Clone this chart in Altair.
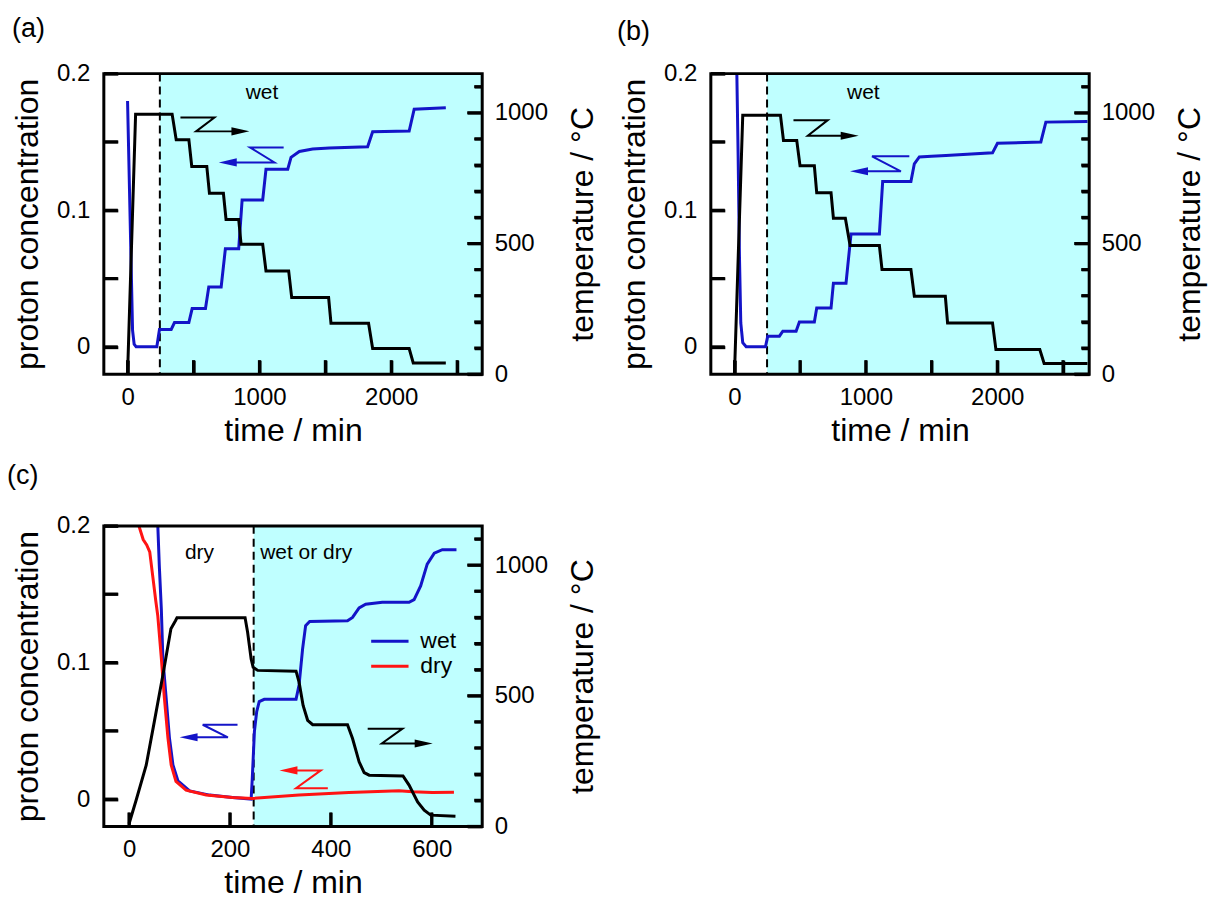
import altair as alt
import pandas as pd

# ---------------- data ----------------
# panel (a)
A_TEMP_T = [0, 61, 338, 369, 465, 487, 601, 621, 727, 747, 843, 861, 1025, 1050, 1222, 1245, 1525, 1543, 1828, 1859, 2136, 2167, 2414]
A_TEMP_V = [0, 995, 995, 897, 897, 795, 795, 692, 692, 592, 592, 497, 497, 395, 395, 293, 293, 195, 195, 98, 98, 43, 43]
A_CONC_T = [0, 38, 50, 65, 222, 242, 331, 356, 465, 490, 591, 616, 710, 742, 843, 869, 1025, 1050, 1215, 1240, 1303, 1404, 1530, 1821, 1859, 2136, 2174, 2414]
A_CONC_V = [0.18, 0.012, 0.002, 0.0, 0.0, 0.0127, 0.0127, 0.0178, 0.0178, 0.028, 0.028, 0.0438, 0.0438, 0.0718, 0.0718, 0.1075, 0.1075, 0.130, 0.130, 0.1387, 0.143, 0.1448, 0.1455, 0.1465, 0.1574, 0.158, 0.1739, 0.175]

# panel (b)
B_TEMP_T = [0, 63, 350, 373, 474, 499, 608, 626, 735, 753, 844, 880, 1103, 1123, 1343, 1369, 1605, 1622, 1964, 1990, 2324, 2357, 2687]
B_TEMP_V = [0, 991, 991, 894, 894, 797, 797, 694, 694, 597, 597, 492, 492, 400, 400, 298, 298, 196, 196, 94, 94, 41, 41]
B_CONC_T = [14, 18, 28, 38, 48, 63, 89, 236, 253, 342, 368, 469, 494, 608, 626, 735, 753, 849, 887, 1103, 1128, 1343, 1369, 1407, 1500, 1610, 1964, 2002, 2332, 2370, 2687]
B_CONC_V = [0.215, 0.2, 0.139, 0.066, 0.0175, 0.003, 0.0, 0.0, 0.0078, 0.0078, 0.0114, 0.0114, 0.0182, 0.0182, 0.0284, 0.0284, 0.0466, 0.0466, 0.0826, 0.0826, 0.121, 0.121, 0.134, 0.139, 0.1395, 0.140, 0.142, 0.149, 0.150, 0.1645, 0.165]

# panel (c)
C_TEMP_T = [0, 14, 34, 50, 67, 83, 92, 95, 230, 235, 242, 246, 255, 331, 337, 345, 354, 364, 433, 443, 456, 466, 476, 543, 555, 572, 585, 598, 647]
C_TEMP_V = [10, 100, 234, 400, 578, 756, 787, 798, 798, 743, 641, 609, 597, 594, 552, 463, 406, 389, 389, 336, 247, 206, 196, 193, 158, 94, 62, 43, 39]
C_WET_T = [56, 60, 64, 67, 73.5, 80, 87, 97, 120, 160, 205, 242, 244, 248.5, 253, 258, 268, 331, 337, 344, 350, 358, 433, 443, 456, 469, 502, 555, 565, 578, 591, 605, 621, 649]
C_WET_V = [0.21, 0.1705, 0.139, 0.103, 0.074, 0.045, 0.025, 0.0133, 0.006, 0.0029, 0.0012, 0.0, 0.0133, 0.0496, 0.064, 0.0714, 0.073, 0.073, 0.0835, 0.110, 0.127, 0.130, 0.1306, 0.133, 0.140, 0.1427, 0.144, 0.144, 0.146, 0.156, 0.172, 0.180, 0.1826, 0.1826]
C_DRY_T = [19.5, 28, 35, 41, 47, 53, 57, 64, 70, 77, 83.5, 93, 113, 153, 205, 245, 337, 436, 535, 562, 601, 644]
C_DRY_V = [0.2, 0.19, 0.186, 0.181, 0.163, 0.145, 0.134, 0.103, 0.074, 0.045, 0.025, 0.013, 0.0065, 0.003, 0.0012, 0.0005, 0.003, 0.0048, 0.006, 0.0053, 0.0048, 0.005]

# axis-pointer zigzags (time, value) and arrowheads
A_ZIG_T_T, A_ZIG_T_V = [401, 659, 520, 856], [982, 982, 929, 929]
A_ZIG_C_T, A_ZIG_C_V = [1184, 929, 1114, 760], [0.146, 0.146, 0.135, 0.135]
B_ZIG_T_T, B_ZIG_T_V = [449, 710, 558, 877], [972, 972, 912, 912]
B_ZIG_C_T, B_ZIG_C_V = [1331, 1047, 1267, 948], [0.1395, 0.1395, 0.1285, 0.1285]
C_ZIG_T_T, C_ZIG_T_V = [473, 542, 501, 584], [374, 374, 317, 317]
C_ZIG_W_T, C_ZIG_W_V = [215, 146, 196, 118], [0.0544, 0.0544, 0.0452, 0.0452]
C_ZIG_D_T, C_ZIG_D_V = [394, 331, 380, 316], [0.008, 0.008, 0.021, 0.021]

CONC_TICKS = [0, 0.05, 0.1, 0.15, 0.2]
TEMP_TICKS = [0, 100, 200, 300, 400, 500, 600, 700, 800, 900, 1000, 1100]
TEMP_MAJOR = [0, 500, 1000]
TEMP_MINOR = [100, 200, 300, 400, 600, 700, 800, 900, 1100]
AB_XTICKS = [0, 500, 1000, 1500, 2000, 2500]
C_XTICKS = [0, 200, 400, 600]

# ---------------- style ----------------
W, H = 379, 301
FONT = "Liberation Sans"
BLUE = "#1414c8"
RED = "#ff1414"
CYAN = "#bfffff"
ARROW_R = "M-1,-0.45L1,0L-1,0.45Z"
ARROW_L = "M1,-0.45L-1,0L1,0.45Z"
LEGEND_LINE = "M-2,0L2,0"


def df_xy(t, v, **extra):
    d = pd.DataFrame({"t": t, "v": v})
    d["i"] = range(len(d))
    for k, val in extra.items():
        d[k] = val
    return d


def panel(label, tdx, toff, xdom, xticks, xstep, wet_start, temp, conc_list,
          zig_temp, zig_conc, texts, legend=False):
    xscale = alt.Scale(domain=xdom, nice=False, zero=False)
    cscale = alt.Scale(domain=[-0.02, 0.2], nice=False, zero=False)
    tscale = alt.Scale(domain=[0, 1150], nice=False, zero=False)
    # inward ticks: axis pulled inside the frame by the tick length
    xaxis = alt.Axis(values=xticks, format="d",
                     labelExpr=f"datum.value % {xstep} == 0 ? datum.label : ''",
                     ticks=True, tickSize=14, tickWidth=3, tickColor="black",
                     offset=-14, zindex=1,
                     domain=False, grid=False, labelFlush=False,
                     labelOverlap=False, labelFontSize=24, labelPadding=11,
                     labelColor="black", title="time / min", titleFontSize=32,
                     titleFontWeight="normal", titleColor="black", titlePadding=6)
    caxis = alt.Axis(values=CONC_TICKS, format="~g",
                     labelExpr="indexof(['0.05','0.15'], datum.label) >= 0 ? '' : datum.label",
                     ticks=True, tickSize=14, tickWidth=3, tickColor="black",
                     offset=-14, zindex=1,
                     domain=False, grid=False, labelOverlap=False,
                     labelFontSize=24, labelPadding=14, labelColor="black",
                     title="proton concentration", titleFontSize=32,
                     titleFontWeight="normal", titleColor="black", titlePadding=12)
    taxis = alt.Axis(orient="right", values=TEMP_TICKS, format="d",
                     labelExpr="datum.value % 500 == 0 ? datum.label : ''",
                     ticks=True, tickSize=15, tickWidth=3, tickColor="black",
                     tickDash={"condition": {"test": "datum.value % 500 != 0",
                                             "value": [0, 7, 8, 0]},
                               "value": [15, 0]},
                     offset=-15, zindex=1,
                     domain=False, grid=False, labelOverlap=False,
                     labelFontSize=24, labelPadding=12, labelColor="black",
                     title="temperature / °C", titleFontSize=32,
                     titleFontWeight="normal", titleColor="black",
                     titleAngle=270, titleBaseline="top", titlePadding=20)

    def X(f="t"):
        return alt.X(f"{f}:Q", scale=xscale, axis=xaxis)

    def X2(f):
        return alt.X2(f"{f}:Q")

    def YC(f="v"):
        return alt.Y(f"{f}:Q", scale=cscale, axis=caxis)

    def YT(f="v"):
        return alt.Y(f"{f}:Q", scale=tscale, axis=taxis)

    # ---- concentration group (left axis) ----
    bg = alt.Chart(pd.DataFrame({"t": [wet_start], "t2": [xdom[1]]})).mark_rect(
        color=CYAN).encode(x=X(), x2=X2("t2"), y=alt.value(0), y2=alt.value(H))
    dash = alt.Chart(pd.DataFrame({"t": [wet_start]})).mark_rule(
        color="black", strokeWidth=2, strokeDash=[8, 5]).encode(
        x=X(), y=alt.value(0), y2=alt.value(H))
    c_layers = [bg, dash]
    for d in conc_list:
        if legend:
            enc = dict(color=alt.Color("series:N",
                       scale=alt.Scale(domain=["wet", "dry"], range=[BLUE, RED]),
                       legend=alt.Legend(orient="none", legendX=275, legendY=557,
                                         title=None, symbolType=LEGEND_LINE,
                                         symbolSize=350, symbolStrokeWidth=3,
                                         labelFontSize=23, labelOffset=19,
                                         rowPadding=1, padding=0,
                                         labelColor="black")))
        else:
            enc = dict(color=alt.value(BLUE))
        c_layers.append(alt.Chart(d).mark_line(strokeWidth=3, clip=True).encode(
            x=X(), y=YC(), order="i:Q", **enc))
    for (zt, zv, col, shape) in zig_conc:
        zd = df_xy(zt, zv)
        c_layers.append(alt.Chart(zd).mark_line(color=col, strokeWidth=2).encode(
            x=X(), y=YC(), order="i:Q"))
        c_layers.append(alt.Chart(zd.tail(1)).mark_point(
            shape=shape, filled=True, color=col, size=324, opacity=1).encode(x=X(), y=YC()))
    # inward tick marks drawn on top (bottom and left)
    c_layers.append(alt.Chart(pd.DataFrame({"t": xticks})).mark_tick(
        orient="vertical", size=14, thickness=3, color="#000000", opacity=1).encode(
        x=X(), y=alt.value(H - 7)))
    c_layers.append(alt.Chart(pd.DataFrame({"v": CONC_TICKS})).mark_tick(
        orient="horizontal", size=14, thickness=3, color="#000000", opacity=1).encode(
        y=YC(), x=alt.value(7)))
    conc_group = alt.layer(*c_layers)

    # ---- temperature group (right axis) ----
    tline = alt.Chart(temp).mark_line(color="black", strokeWidth=3, clip=True).encode(
        x=X(), y=YT(), order="i:Q")
    t_layers = [tline]
    for (zt, zv, col, shape) in zig_temp:
        zd = df_xy(zt, zv)
        t_layers.append(alt.Chart(zd).mark_line(color=col, strokeWidth=2).encode(
            x=X(), y=YT(), order="i:Q"))
        t_layers.append(alt.Chart(zd.tail(1)).mark_point(
            shape=shape, filled=True, color=col, size=324, opacity=1).encode(x=X(), y=YT()))
    for (tt, tv, txt, al) in texts:
        t_layers.append(alt.Chart(pd.DataFrame({"t": [tt], "v": [tv], "s": [txt]})).mark_text(
            fontSize=21, color="black", align=al, baseline="middle").encode(
            x=X(), y=YT(), text="s:N"))
    frame = alt.Chart(pd.DataFrame({"k": [0]})).mark_rect(
        filled=False, stroke="black", strokeWidth=3).encode(
        x=alt.value(0), x2=alt.value(W), y=alt.value(0), y2=alt.value(H))
    t_layers.append(frame)
    t_layers.append(alt.Chart(pd.DataFrame({"v": TEMP_MAJOR})).mark_tick(
        orient="horizontal", size=15, thickness=3, color="#000000", opacity=1).encode(
        y=YT(), x=alt.value(W - 7.5)))
    t_layers.append(alt.Chart(pd.DataFrame({"v": TEMP_MINOR})).mark_tick(
        orient="horizontal", size=8, thickness=3, color="#000000", opacity=1).encode(
        y=YT(), x=alt.value(W - 4)))
    temp_group = alt.layer(*t_layers)

    return alt.layer(conc_group, temp_group).resolve_scale(y="independent").properties(
        width=W, height=H,
        title=alt.TitleParams(label, anchor="start", frame="group", dx=tdx, offset=toff,
                              fontSize=27, fontWeight="normal", color="black", font=FONT))


pa = panel("(a)", -92, 19, [-180, 2690], AB_XTICKS, 1000, 245,
           df_xy(A_TEMP_T, A_TEMP_V), [df_xy(A_CONC_T, A_CONC_V)],
           [(A_ZIG_T_T, A_ZIG_T_V, "black", ARROW_R)],
           [(A_ZIG_C_T, A_ZIG_C_V, BLUE, ARROW_L)],
           [(1020, 1075, "wet", "center")])
pb = panel("(b)", -94, 16, [-180, 2700], AB_XTICKS, 1000, 248,
           df_xy(B_TEMP_T, B_TEMP_V), [df_xy(B_CONC_T, B_CONC_V)],
           [(B_ZIG_T_T, B_ZIG_T_V, "black", ARROW_R)],
           [(B_ZIG_C_T, B_ZIG_C_V, BLUE, ARROW_L)],
           [(981, 1076, "wet", "center")])
pc = panel("(c)", -97, 24, [-50, 700], C_XTICKS, 200, 247,
           df_xy(C_TEMP_T, C_TEMP_V),
           [df_xy(C_WET_T, C_WET_V, series="wet"), df_xy(C_DRY_T, C_DRY_V, series="dry")],
           [(C_ZIG_T_T, C_ZIG_T_V, "black", ARROW_R)],
           [(C_ZIG_W_T, C_ZIG_W_V, BLUE, ARROW_L), (C_ZIG_D_T, C_ZIG_D_V, RED, ARROW_L)],
           [(139.5, 1048, "dry", "center"), (351, 1048, "wet or dry", "center")],
           legend=True)

chart = alt.concat(pa, pb, pc, columns=2, spacing={"row": 152, "column": 229},
                   bounds="flush").properties(
    padding={"left": 7, "top": 14, "right": 5, "bottom": 5}
).configure(font=FONT).configure_view(strokeWidth=0)

chart.save("out.html", embed_options={"renderer": "svg", "actions": False})
